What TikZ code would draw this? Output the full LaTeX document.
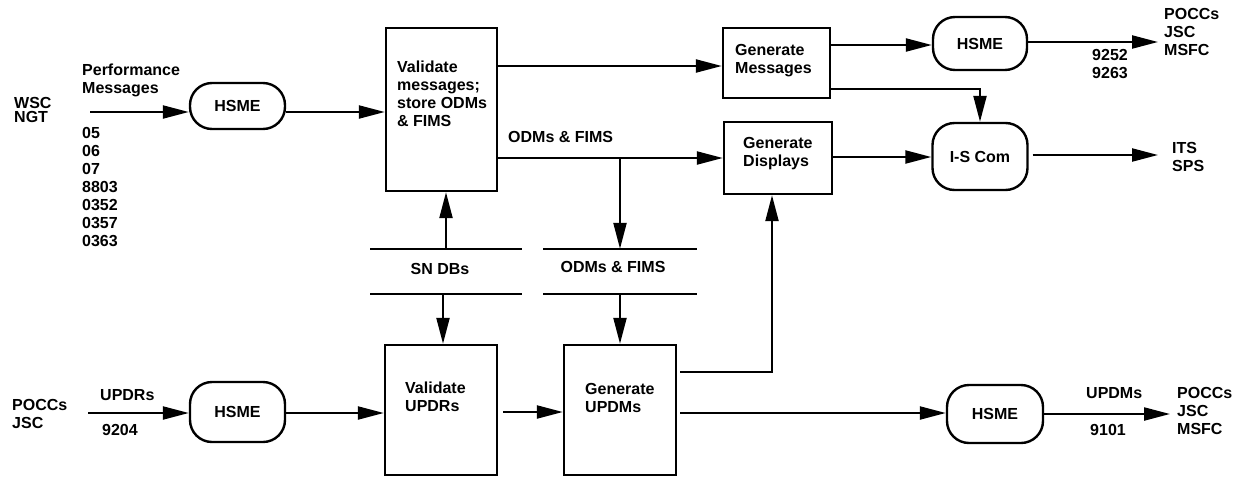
\documentclass[tikz,border=0pt]{standalone}
\usepackage{fontspec}
\setmainfont{Liberation Sans}
\usetikzlibrary{arrows.meta}

\tikzset{
  txt/.style={font=\fontsize{16}{18}\selectfont\bfseries, inner sep=0pt, align=left},
  proc/.style={draw, line width=2.4pt, inner sep=0pt},
  term/.style={draw, line width=2.4pt, rounded corners=22pt, inner sep=0pt,
               font=\fontsize{16}{18}\selectfont\bfseries},
  store/.style={inner sep=0pt, minimum height=45pt},
  storeline/.style={line width=2.2pt},
  flow/.style={line width=2.2pt, -{Triangle[length=26pt,width=13pt]}}
}

\begin{document}
\begin{tikzpicture}[x=1pt,y=-1pt]
\useasboundingbox (0,0) rectangle (1244,477);

% ---- terminators (HSME / I-S Com) ----
\node[term, minimum width=95pt, minimum height=46pt] (hsme1) at (237.5,106) {HSME};
\node[term, minimum width=94pt, minimum height=53pt] (hsme2) at (980,43.5) {HSME};
\node[term, minimum width=95pt, minimum height=67pt] (iscom) at (980,156.5) {I-S Com};
\node[term, minimum width=95pt, minimum height=60pt] (hsme3) at (237.5,412) {HSME};
\node[term, minimum width=96pt, minimum height=58pt] (hsme4) at (995,414) {HSME};

% ---- process boxes ----
\node[proc, minimum width=111pt, minimum height=163pt] (valmsg) at (441.5,109.5) {};
\node[proc, minimum width=107pt, minimum height=70pt] (gm) at (776.5,63) {};
\node[proc, minimum width=108pt, minimum height=72pt] (gd) at (778,158) {};
\node[proc, minimum width=112pt, minimum height=130pt] (valupdr) at (441,410) {};
\node[proc, minimum width=112pt, minimum height=130pt] (genupdm) at (620,410) {};

\node[txt, anchor=north west] (valmsgT) at (397,61) {Validate\\messages;\\store ODMs\\\& FIMS};
\node[txt, anchor=north west] (gmT) at (735,44) {Generate\\Messages};
\node[txt, anchor=north west] (gdT) at (743,137) {Generate\\Displays};
\node[txt, anchor=north west] (valupdrT) at (405,382) {Validate\\UPDRs};
\node[txt, anchor=north west] (genupdmT) at (585,383) {Generate\\UPDMs};

% ---- data stores ----
\node[store, minimum width=151pt] (sn) at (446,271.5) {};
\node[store, minimum width=153pt] (odm) at (620,271.5) {};
\draw[storeline] (sn.north west) -- (sn.north east);
\draw[storeline] (sn.south west) -- (sn.south east);
\draw[storeline] (odm.north west) -- (odm.north east);
\draw[storeline] (odm.south west) -- (odm.south east);
\node[txt] (snT) at (440,269) {SN DBs};
\node[txt] (odmT) at (613,267) {ODMs \& FIMS};

% ---- external entities and flow labels ----
\node[txt, anchor=north west] (wsc) at (14,97) {WSC\\[-4pt]NGT};
\node[txt, anchor=north west] (perf) at (82,64) {Performance\\Messages};
\node[txt, anchor=north west] (codes) at (82,127) {05\\06\\07\\8803\\0352\\0357\\0363};
\node[txt, anchor=west] (odmflow) at (508,137) {ODMs \& FIMS};
\node[txt, anchor=north west] (codesTop) at (1092,49) {9252\\9263};
\node[txt, anchor=north west] (destTop) at (1164,8) {POCCs\\JSC\\MSFC};
\node[txt, anchor=north west] (destITS) at (1172,142) {ITS\\SPS};
\node[txt, anchor=north west] (pocLeft) at (12,399) {POCCs\\JSC};
\node[txt, anchor=west] (updrs) at (100,395) {UPDRs};
\node[txt, anchor=west] (c9204) at (102,430) {9204};
\node[txt, anchor=west] (updms) at (1086,393) {UPDMs};
\node[txt, anchor=west] (c9101) at (1090,430) {9101};
\node[txt, anchor=north west] (destBot) at (1177,387) {POCCs\\JSC\\MSFC};

% ---- free ends of the outer flows ----
\coordinate (src1) at (90,112);
\coordinate (src3) at (88,413);
\coordinate (dstTop) at (1158,42);
\coordinate (dstITS) at (1158,155);
\coordinate (dstBot) at (1170,414);

% ---- upper chain ----
\draw[flow] (src1) -- (hsme1.west |- src1);
\draw[flow] (hsme1.east |- src1) -- (valmsg.west |- src1);
\draw[flow] (valmsg.east |- 0,66) -- (gm.west |- 0,66);
\draw[flow] (valmsg.east |- 0,158) -- (gd.west |- 0,158);
\draw[flow] (odm.north |- 0,158) -- (odm.north);
\draw[flow] (gm.east |- 0,45) -- (hsme2.west |- 0,45);
\draw[flow] (hsme2.east |- dstTop) -- (dstTop);
\draw[flow] (gm.east |- 0,89) -| (iscom.north);
\draw[flow] (gd.east |- 0,157) -- (iscom.west |- 0,157);
\draw[flow] ([xshift=4pt]iscom.east |- dstITS) -- (dstITS);

% ---- data store access ----
\draw[flow] (sn.north) -- (sn.north |- valmsg.south);
\draw[flow] ([xshift=-3pt]sn.south) -- ([xshift=-3pt]sn.south |- valupdr.north);
\draw[flow] (odm.south) -- (genupdm.north);

% ---- lower chain ----
\draw[flow] (src3) -- (hsme3.west |- src3);
\draw[flow] (hsme3.east |- src3) -- (valupdr.west |- src3);
\draw[flow, shorten <=5pt] (valupdr.east |- 0,412) -- (genupdm.west |- 0,412);
\draw[flow, shorten <=3pt] (genupdm.east |- 0,372) -| ([xshift=-6pt]gd.south);
\draw[flow, shorten <=3pt] (genupdm.east |- 0,413) -- (hsme4.west |- 0,413);
\draw[flow] (hsme4.east |- dstBot) -- (dstBot);
\end{tikzpicture}
\end{document}
